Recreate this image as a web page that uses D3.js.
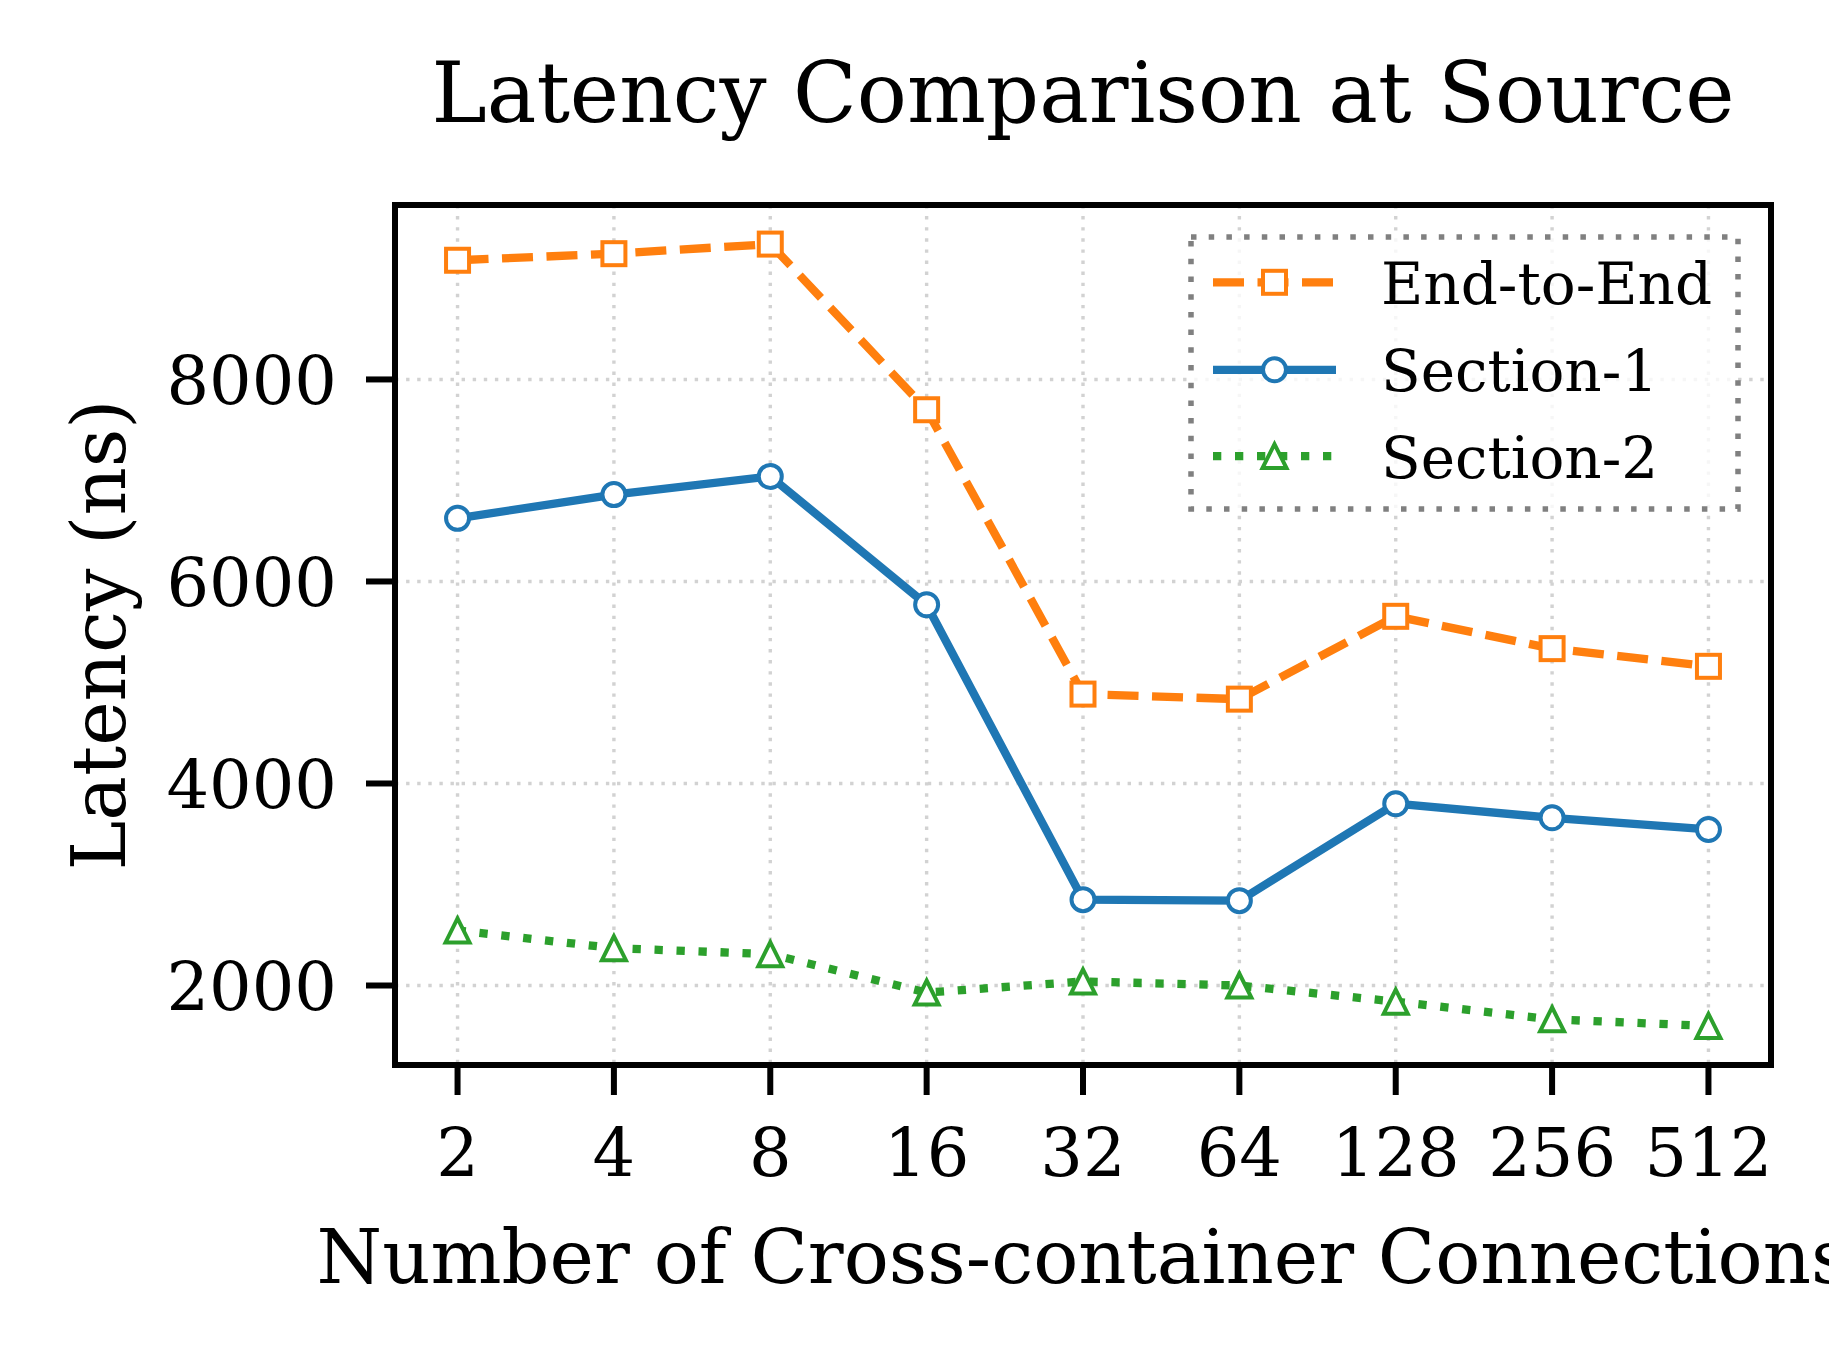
<!DOCTYPE html>
<html lang="en">
<head>
<meta charset="UTF-8">
<title>Latency Comparison at Source</title>
<script src="https://d3js.org/d3.v7.min.js"></script>
<style>
  body { margin: 0; background: #fff; }
  text { font-family: "DejaVu Serif", serif; fill: #000; }
</style>
</head>
<body>
<div id="chart"></div>
<script>
// connections (x categories)
const connections = [2, 4, 8, 16, 32, 64, 128, 256, 512];
// latency values in ns
const endToEnd = [9180, 9245, 9340, 7700, 4885, 4835, 5655, 5335, 5160];
const section1 = [6625, 6860, 7040, 5770, 2850, 2840, 3800, 3660, 3545];
const section2 = [2545, 2370, 2310, 1930, 2040, 2000, 1840, 1665, 1600];
const yTicks = [2000, 4000, 6000, 8000];

const series = [
  { name: "End-to-End", values: endToEnd, color: "#ff7f0e", dash: "31,13.5", marker: "square" },
  { name: "Section-1", values: section1, color: "#1f77b4", dash: null, marker: "circle" },
  { name: "Section-2", values: section2, color: "#2ca02c", dash: "8.3,13.7", marker: "triangle" }
];

const W = 1829, H = 1356;
const plot = { left: 395, right: 1771, top: 205, bottom: 1065 };

const svg = d3.select("#chart").append("svg")
  .attr("width", W).attr("height", H)
  .style("display", "block");

// x: positions by index, 5% margin like matplotlib
const x = d3.scaleLinear()
  .domain([-0.4, connections.length - 1 + 0.4])
  .range([plot.left, plot.right]);

const all = endToEnd.concat(section1, section2);
const ext = d3.extent(all);
const pad = (ext[1] - ext[0]) * 0.05;
const y = d3.scaleLinear()
  .domain([ext[0] - pad, ext[1] + pad])
  .range([plot.bottom, plot.top]);

// grid
const grid = svg.append("g").attr("class", "grid");
grid.selectAll("line.gx").data(connections).enter().append("line")
  .attr("x1", (d, i) => x(i)).attr("x2", (d, i) => x(i))
  .attr("y1", plot.top).attr("y2", plot.bottom)
  .attr("stroke", "#d2d2d2").attr("stroke-width", 3.4)
  .attr("stroke-dasharray", "3.4,7.7");
grid.selectAll("line.gy").data(yTicks).enter().append("line")
  .attr("x1", plot.left).attr("x2", plot.right)
  .attr("y1", d => y(d)).attr("y2", d => y(d))
  .attr("stroke", "#d2d2d2").attr("stroke-width", 3.4)
  .attr("stroke-dasharray", "3.4,7.7");

// markers
function drawMarker(g, type, cx, cy, color) {
  if (type === "square") {
    g.append("rect").attr("x", cx - 11.5).attr("y", cy - 11.5)
      .attr("width", 23).attr("height", 23)
      .attr("fill", "#fff").attr("stroke", color).attr("stroke-width", 4);
  } else if (type === "circle") {
    g.append("circle").attr("cx", cx).attr("cy", cy).attr("r", 11.5)
      .attr("fill", "#fff").attr("stroke", color).attr("stroke-width", 4);
  } else {
    const s = 12;
    g.append("path")
      .attr("d", `M${cx},${cy - s}L${cx - s},${cy + s}L${cx + s},${cy + s}Z`)
      .attr("fill", "#fff").attr("stroke", color).attr("stroke-width", 4)
      .attr("stroke-linejoin", "miter");
  }
}

const line = d3.line().x((d, i) => x(i)).y(d => y(d));

series.forEach(s => {
  const g = svg.append("g");
  g.append("path")
    .datum(s.values)
    .attr("d", line)
    .attr("fill", "none")
    .attr("stroke", s.color)
    .attr("stroke-width", 8.3)
    .attr("stroke-linejoin", "round")
    .attr("stroke-dasharray", s.dash);
  s.values.forEach((v, i) => drawMarker(g, s.marker, x(i), y(v), s.color));
});

// spines
svg.append("rect")
  .attr("x", plot.left).attr("y", plot.top)
  .attr("width", plot.right - plot.left).attr("height", plot.bottom - plot.top)
  .attr("fill", "none").attr("stroke", "#000").attr("stroke-width", 6);

// x axis ticks and labels
const xt = svg.append("g");
connections.forEach((c, i) => {
  xt.append("line").attr("x1", x(i)).attr("x2", x(i))
    .attr("y1", plot.bottom).attr("y2", plot.bottom + 30)
    .attr("stroke", "#000").attr("stroke-width", 6);
  xt.append("text").attr("x", x(i)).attr("y", 1176)
    .attr("text-anchor", "middle").attr("font-size", 67).text(c);
});

// y axis ticks and labels
const yt = svg.append("g");
yTicks.forEach(v => {
  yt.append("line").attr("x1", plot.left - 29).attr("x2", plot.left)
    .attr("y1", y(v)).attr("y2", y(v))
    .attr("stroke", "#000").attr("stroke-width", 6);
  yt.append("text").attr("x", 337).attr("y", y(v)).attr("dy", "0.36em")
    .attr("text-anchor", "end").attr("font-size", 67).text(v);
});

// title and axis labels
const cx = (plot.left + plot.right) / 2;
svg.append("text").attr("x", cx).attr("y", 121.7)
  .attr("text-anchor", "middle").attr("font-size", 83.3)
  .text("Latency Comparison at Source");
svg.append("text").attr("x", cx).attr("y", 1282.7)
  .attr("text-anchor", "middle").attr("font-size", 75)
  .text("Number of Cross-container Connections");
svg.append("text")
  .attr("transform", `translate(125,${(plot.top + plot.bottom) / 2}) rotate(-90)`)
  .attr("text-anchor", "middle").attr("font-size", 75)
  .text("Latency (ns)");

// legend
const lg = svg.append("g");
lg.append("rect")
  .attr("x", 1191).attr("y", 237).attr("width", 547).attr("height", 272)
  .attr("fill", "#fff").attr("fill-opacity", 0.8)
  .attr("stroke", "#808080").attr("stroke-width", 5.5)
  .attr("stroke-dasharray", "5.5,12.2");
const rowY = [282.3, 369.8, 456.1];
series.forEach((s, i) => {
  const ry = rowY[i];
  lg.append("line").attr("x1", 1213).attr("x2", 1336)
    .attr("y1", ry).attr("y2", ry)
    .attr("stroke", s.color).attr("stroke-width", 8.3)
    .attr("stroke-dasharray", s.dash);
  drawMarker(lg, s.marker, 1274.5, ry, s.color);
  lg.append("text").attr("x", 1381).attr("y", ry + 21.5)
    .attr("font-size", 58).text(s.name);
});
</script>
</body>
</html>
